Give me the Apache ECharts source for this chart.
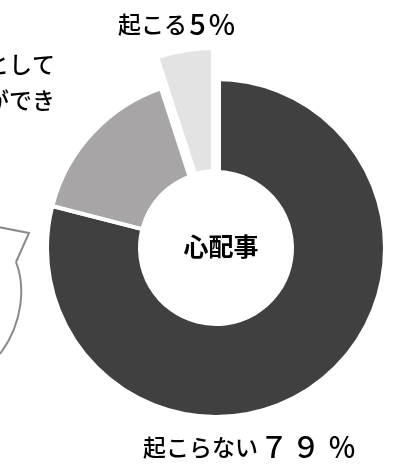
<!DOCTYPE html>
<html><head><meta charset="utf-8">
<script src="https://cdn.jsdelivr.net/npm/echarts@6/dist/echarts.min.js"></script>
<style>html,body{margin:0;padding:0;background:#fff}#c{width:398px;height:468px}</style>
</head><body><div id="c"></div>
<script>
const categories = ['起こらない', '対処できる', '起こる'];
const values = [79, 16, 5];
const percentTexts = ['７９％', '', '5%'];
const centerText = '心配事';
const sideLines = ['として', 'ができ'];
const colors = ['#404040', '#a7a5a5', '#e3e3e3'];

const chart = echarts.init(document.getElementById('c'), null, {renderer: 'canvas'});
const font = '"Noto Sans CJK JP", "Noto Sans", sans-serif';
const cx = 216, cy = 248;

const mainData = categories.map((n, i) => ({
  name: n, value: values[i],
  itemStyle: i === 2 ? {color: 'rgba(0,0,0,0)', borderWidth: 0} : {color: colors[i]}
}));
const explodedData = categories.map((n, i) => ({
  name: n, value: values[i],
  itemStyle: i === 2 ? {color: colors[i], borderColor: '#fff', borderWidth: 10} : {color: 'rgba(0,0,0,0)', borderWidth: 0}
}));

function richLabel(name, pct) {
  return '{k|' + name + '}' + pct.split('').map(c => '{' + ((c === '%' || c === '％') ? 'p' : 'd') + '|' + c + '}').join('');
}
function richStyles(dw, pw) {
  return {
    k: {fontFamily: font, fontSize: 23, fontWeight: 500, color: '#000', verticalAlign: 'middle', lineHeight: 30},
    d: {fontFamily: font, fontSize: 29, fontWeight: 500, color: '#000', width: dw, align: 'center', verticalAlign: 'middle', lineHeight: 30},
    p: {fontFamily: font, fontSize: 28, fontWeight: 500, color: '#000', width: pw, align: 'center', verticalAlign: 'middle', lineHeight: 30}
  };
}
const textBase = {fontFamily: font, fontSize: 23, fontWeight: 500, fill: '#000'};

chart.setOption({
  animation: false,
  series: [
    {
      type: 'pie', center: [cx, cy], radius: [76, 169], startAngle: 90, clockwise: true,
      itemStyle: {borderColor: '#fff', borderWidth: 4},
      label: {show: false}, labelLine: {show: false}, silent: true,
      data: mainData
    },
    {
      type: 'pie', center: [cx, cy], radius: [74, 203], startAngle: 90, clockwise: true,
      label: {show: false}, labelLine: {show: false}, silent: true,
      data: explodedData
    }
  ],
  graphic: [
    {type: 'text', x: 221, y: 246, style: Object.assign({}, textBase, {text: centerText, fontWeight: 'bold', fontSize: 25, textAlign: 'center', textVerticalAlign: 'middle'})},
    {type: 'text', x: 118, y: 24, style: Object.assign({}, textBase, {
      text: richLabel(categories[2], percentTexts[2]), textVerticalAlign: 'middle', rich: richStyles(21, 28)})},
    {type: 'text', x: 143, y: 447, style: Object.assign({}, textBase, {
      text: richLabel(categories[0], percentTexts[0]), textVerticalAlign: 'middle', rich: richStyles(32, 40)})},
    {type: 'text', x: 55, y: 64, style: Object.assign({}, textBase, {text: sideLines[0], textAlign: 'right', textVerticalAlign: 'middle'})},
    {type: 'text', x: 55, y: 100, style: Object.assign({}, textBase, {text: sideLines[1], textAlign: 'right', textVerticalAlign: 'middle'})},
    {type: 'polyline', shape: {points: [[-2, 227], [29, 233], [16, 262]]},
     style: {stroke: '#8a8a8a', lineWidth: 2, fill: 'none'}},
    {type: 'bezierCurve', shape: {x1: 16, y1: 262, cpx1: 25, cpy1: 285, cpx2: 24, cpy2: 322, x2: 0, y2: 354},
     style: {stroke: '#8a8a8a', lineWidth: 2, fill: 'none'}}
  ]
});
</script></body></html>
